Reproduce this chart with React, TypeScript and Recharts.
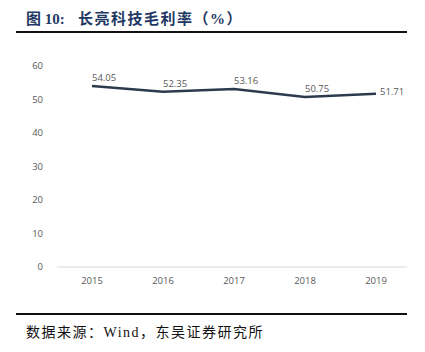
import React from "react";
import { LineChart, Line, XAxis, YAxis, LabelList } from "recharts";

const years = ["2015", "2016", "2017", "2018", "2019"];
const grossMargin = [54.05, 52.35, 53.16, 50.75, 51.71];
const yTicks = [0, 10, 20, 30, 40, 50, 60];

const data = years.map((y, i) => ({ year: y, v: grossMargin[i] }));

const LABEL_FONT = "'Open Sans', 'DejaVu Sans', sans-serif";

const renderLabel = (props: any) => {
  const { x, y, value, index } = props;
  const last = index === years.length - 1;
  return (
    <text
      x={last ? x + 4 : x}
      y={last ? y + 1 : y - 5}
      fill="#595959"
      fontSize={9.5}
      fontFamily={LABEL_FONT}
      textAnchor="start"
    >
      {value.toFixed(2)}
    </text>
  );
};

const titleStyle: React.CSSProperties = {
  position: "absolute",
  top: 9,
  fontFamily: "'Liberation Serif', 'Noto Sans CJK SC', serif",
  fontWeight: "bold",
  fontSize: 15,
  lineHeight: "20px",
  color: "#1f3864",
  whiteSpace: "nowrap",
};

export default function App() {
  return (
    <div
      style={{
        position: "absolute",
        left: 0,
        top: 0,
        width: 425,
        height: 352,
        background: "#fff",
        overflow: "hidden",
      }}
    >
      <div style={{ ...titleStyle, left: 26 }}>图 10:</div>
      <div style={{ ...titleStyle, left: 78, letterSpacing: 1.5 }}>
        长亮科技毛利率（%）
      </div>
      <div
        style={{
          position: "absolute",
          left: 16,
          top: 31,
          width: 391,
          height: 2,
          background: "#111",
        }}
      />
      <div style={{ position: "absolute", left: 0, top: 0 }}>
        <LineChart
          width={425}
          height={352}
          data={data}
          margin={{ top: 66, right: 18, bottom: 55, left: 0 }}
        >
          <XAxis
            dataKey="year"
            height={30}
            padding={{ left: 35, right: 31 }}
            axisLine={{ stroke: "#d9d9d9" }}
            tickLine={false}
            tickMargin={4}
            tick={{ fill: "#595959", fontSize: 9.5, fontFamily: LABEL_FONT }}
          />
          <YAxis
            width={57}
            domain={[0, 60]}
            ticks={yTicks}
            axisLine={false}
            tickLine={false}
            tickMargin={8}
            tick={{ fill: "#595959", fontSize: 9.5, fontFamily: LABEL_FONT }}
          />
          <Line
            dataKey="v"
            stroke="#2d3a4e"
            strokeWidth={2.5}
            dot={false}
            isAnimationActive={false}
          >
            <LabelList dataKey="v" content={renderLabel} />
          </Line>
        </LineChart>
      </div>
      <div
        style={{
          position: "absolute",
          left: 16,
          top: 313,
          width: 391,
          height: 2,
          background: "#111",
        }}
      />
      <div
        style={{
          position: "absolute",
          left: 26,
          top: 324,
          fontFamily: "'Liberation Serif', 'Noto Sans CJK SC', serif",
          fontSize: 14,
          lineHeight: "18px",
          letterSpacing: 1.5,
          color: "#111",
          whiteSpace: "nowrap",
        }}
      >
        数据来源：Wind，东吴证券研究所
      </div>
    </div>
  );
}
